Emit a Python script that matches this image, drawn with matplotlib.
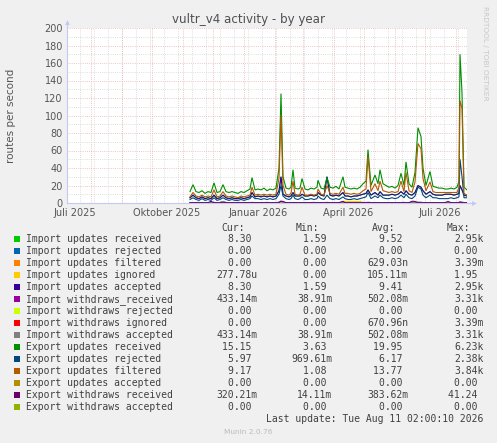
import numpy as np
import matplotlib
matplotlib.use('Agg')
import matplotlib.pyplot as plt
from matplotlib.patches import Rectangle

W, H = 497, 443

# x positions: days after 2025-07-08 12:00
day = [123, 126, 129, 132, 135, 138, 141, 144, 147, 150,
       153, 156, 159, 162, 165, 168, 171, 174, 177, 180,
       183, 185, 188, 191, 194, 197, 200, 203, 206, 209,
       212, 214, 216, 219, 222, 224, 226, 228, 231, 233,
       235, 238, 241, 244, 247, 250, 251, 254, 257, 260,
       263, 266, 269, 272, 276, 278, 281, 284, 287, 290,
       293, 296, 299, 301, 304, 308, 311, 313, 316, 319,
       322, 325, 328, 331, 334, 337, 339, 342, 345, 348,
       351, 354, 356, 359, 363, 366, 369, 372, 375, 378,
       381, 384, 387, 390, 392, 393, 395, 397, 400]

exp_recv = [13, 21, 13, 12, 14, 11, 13, 12, 23, 12,
            13, 21, 13, 12, 13, 12, 11, 13, 12, 14,
            16, 29, 15, 16, 15, 17, 14, 16, 15, 17,
            40, 125, 30, 17, 16, 18, 38, 17, 16, 17,
            28, 16, 15, 17, 16, 18, 26, 17, 16, 29,
            18, 17, 19, 16, 30, 18, 17, 16, 17, 16,
            18, 22, 25, 61, 20, 32, 22, 38, 22, 20,
            18, 19, 17, 20, 34, 20, 47, 22, 18, 35,
            86, 76, 40, 20, 36, 19, 18, 17, 17, 16,
            16, 17, 16, 18, 25, 170, 126, 18, 15]

exp_filt = [7, 12, 8, 7, 9, 7, 8, 7, 15, 7,
            8, 13, 8, 7, 8, 7, 6, 8, 7, 8,
            9, 18, 9, 10, 9, 10, 9, 10, 9, 10,
            28, 101, 20, 10, 9, 11, 25, 10, 9, 10,
            18, 9, 9, 10, 9, 10, 16, 10, 9, 20,
            11, 10, 11, 10, 18, 11, 11, 10, 11, 10,
            11, 14, 16, 53, 13, 22, 14, 25, 14, 13,
            12, 13, 12, 13, 25, 13, 35, 14, 12, 24,
            68, 62, 28, 14, 24, 13, 12, 12, 12, 12,
            12, 12, 12, 12, 18, 117, 108, 11, 9]

exp_rej = [4, 6, 4, 3, 5, 3, 4, 3, 6, 3,
           4, 6, 4, 3, 4, 3, 3, 4, 3, 4,
           5, 8, 5, 5, 4, 5, 4, 5, 4, 5,
           10, 20, 8, 5, 4, 5, 9, 5, 4, 5,
           7, 4, 4, 5, 4, 5, 8, 5, 4, 9,
           5, 4, 5, 4, 7, 5, 4, 4, 5, 4,
           5, 6, 7, 12, 5, 8, 6, 9, 6, 5,
           5, 6, 5, 6, 9, 6, 10, 6, 5, 8,
           18, 16, 9, 6, 9, 6, 6, 5, 5, 5,
           5, 6, 5, 6, 7, 50, 30, 6, 6]

imp_acc = [6, 9, 6, 5, 7, 5, 6, 5, 9, 5,
           6, 9, 6, 5, 6, 5, 5, 6, 5, 6,
           7, 12, 7, 8, 7, 8, 7, 8, 7, 8,
           14, 30, 10, 8, 7, 8, 12, 8, 8, 8,
           10, 8, 8, 9, 8, 9, 12, 9, 8, 30,
           9, 8, 9, 8, 12, 8, 8, 7, 8, 8,
           9, 10, 11, 15, 9, 12, 9, 13, 9, 9,
           9, 10, 9, 10, 13, 10, 14, 10, 9, 12,
           20, 18, 14, 10, 13, 10, 9, 9, 9, 10,
           10, 10, 9, 10, 11, 20, 15, 9, 8]

imp_recv = [6, 9, 6, 5, 7, 5, 6, 5, 9, 5,
            6, 9, 6, 5, 6, 5, 5, 6, 5, 6,
            7, 12, 7, 8, 7, 8, 7, 8, 7, 8,
            14, 30, 10, 8, 7, 8, 12, 8, 8, 8,
            10, 8, 8, 9, 8, 9, 12, 9, 8, 30,
            9, 8, 9, 8, 12, 8, 8, 7, 8, 8,
            9, 10, 11, 15, 9, 12, 9, 13, 9, 9,
            9, 10, 9, 10, 13, 10, 14, 10, 9, 12,
            20, 18, 14, 10, 13, 10, 9, 9, 9, 10,
            10, 10, 9, 10, 11, 20, 15, 9, 8]

wd_recv = [0.5, 0.4, 0.5, 0.6, 0.4, 0.5, 0.5, 0.4, 0.6, 0.5,
           0.5, 1.8, 0.5, 0.4, 0.5, 0.5, 0.6, 0.5, 0.4, 0.5,
           0.5, 0.6, 0.5, 0.4, 0.5, 0.5, 0.6, 0.5, 0.5, 0.4,
           0.8, 2.0, 0.6, 0.5, 0.5, 0.4, 0.6, 0.5, 0.5, 0.5,
           0.5, 0.4, 0.5, 0.5, 0.6, 0.5, 0.5, 0.4, 0.5, 0.6,
           0.5, 0.5, 0.4, 0.5, 0.6, 0.5, 0.5, 0.5, 0.4, 0.5,
           0.5, 0.6, 0.5, 0.7, 0.5, 0.5, 0.4, 0.5, 0.5, 0.5,
           0.5, 0.4, 0.5, 0.5, 0.5, 0.6, 0.5, 0.5, 0.5, 0.5,
           0.8, 0.7, 0.5, 0.5, 0.5, 0.4, 0.5, 0.5, 0.5, 0.5,
           0.5, 0.5, 0.4, 0.5, 0.5, 1.5, 0.8, 0.5, 0.4]

exp_wd_recv = [0.4, 0.3, 0.4, 0.3, 0.4, 0.3, 0.4, 1.9, 0.4, 0.3,
               0.4, 0.3, 0.4, 0.3, 0.4, 0.3, 0.4, 0.3, 0.4, 0.3,
               0.4, 0.3, 0.4, 0.3, 0.4, 0.3, 0.4, 0.3, 0.4, 0.3,
               0.4, 2.0, 1.8, 0.4, 0.3, 0.4, 0.3, 0.4, 0.3, 0.4,
               0.3, 0.4, 0.3, 0.4, 0.3, 0.4, 0.3, 0.4, 0.3, 0.4,
               0.3, 0.4, 0.3, 0.4, 1.9, 0.4, 0.3, 0.4, 0.3, 0.4,
               0.3, 0.4, 0.3, 0.4, 0.3, 0.4, 0.3, 0.4, 0.3, 0.4,
               0.3, 0.4, 0.3, 0.4, 0.3, 0.4, 0.3, 0.4, 2.0, 1.8,
               0.3, 0.4, 0.3, 0.4, 0.3, 0.4, 0.3, 0.4, 0.3, 0.4,
               1.8, 0.4, 0.3, 0.4, 0.3, 0.4, 0.3, 0.4, 0.3]

imp_ign = [0, 0, 0, 0, 0, 0, 0, 0, 0, 0,
           0, 0, 0, 0, 0, 0, 0, 0, 0, 0,
           0, 0, 0, 0, 0, 0, 0, 0, 0, 0,
           0, 0, 0, 0, 0, 0, 0, 0, 0, 0,
           0, 0, 0, 0, 0, 0, 0, 0, 0, 0,
           0, 0, 0, 0, 1.8, 1.8, 1.8, 1.8, 1.8, 1.8,
           1.8, 0, 0, 0, 0, 0, 0, 0, 0, 0,
           0, 0, 0, 0, 0, 0, 0, 0, 0, 0,
           0, 0, 0, 0, 0, 0, 0, 0, 0, 0,
           0, 0, 0, 0, 0, 0, 0, 0, 0]

zero = [0] * len(day)

names = ["Import updates received", "Import updates rejected", "Import updates filtered",
         "Import updates ignored", "Import updates accepted", "Import withdraws_received",
         "Import withdraws rejected", "Import withdraws ignored", "Import withdraws accepted",
         "Export updates received", "Export updates rejected", "Export updates filtered",
         "Export updates accepted", "Export withdraws received", "Export withdraws accepted"]
colors = ["#00CC00", "#0066B3", "#FF8000", "#FFCC00", "#330099", "#990099", "#CCFF00",
          "#FF0000", "#808080", "#008F00", "#00487D", "#B35A00", "#B38F00", "#6B006B", "#8FB300"]
values = [imp_recv, zero, zero, imp_ign, imp_acc, wd_recv, zero, zero, wd_recv,
          exp_recv, exp_rej, exp_filt, zero, exp_wd_recv, zero]
cur = ["8.30 ", "0.00 ", "0.00 ", "277.78u", "8.30 ", "433.14m", "0.00 ", "0.00 ", "433.14m",
       "15.15 ", "5.97 ", "9.17 ", "0.00 ", "320.21m", "0.00 "]
mins = ["1.59 ", "0.00 ", "0.00 ", "0.00 ", "1.59 ", "38.91m", "0.00 ", "0.00 ", "38.91m",
        "3.63 ", "969.61m", "1.08 ", "0.00 ", "14.11m", "0.00 "]
avgs = ["9.52 ", "0.00 ", "629.03n", "105.11m", "9.41 ", "502.08m", "0.00 ", "670.96n", "502.08m",
        "19.95 ", "6.17 ", "13.77 ", "0.00 ", "383.62m", "0.00 "]
maxs = ["2.95k", "0.00 ", "3.39m", "1.95 ", "2.95k", "3.31k", "0.00 ", "3.39m", "3.31k",
        "6.23k", "2.38k", "3.84k", "0.00 ", "41.24 ", "0.00 "]

xtick_dates = ["2025-07-16", "2025-10-16", "2026-01-16", "2026-04-16", "2026-07-16"]
xtick_labels = ["Juli 2025", "Oktober 2025", "Januar 2026", "April 2026", "Juli 2026"]

start = np.datetime64('2025-07-08T12:00')
xs = start + np.array(day) * np.timedelta64(1, 'D')

fig = plt.figure(figsize=(W / 100, H / 100), dpi=100, facecolor='#F0F0F0')
L, R, T, B = 67, 467, 28, 203
ax = fig.add_axes([L / W, 1 - B / H, (R - L) / W, (B - T) / H])
ax.set_facecolor('white')
ax.set_xlim(start, start + np.timedelta64(400, 'D'))
ax.set_ylim(0, 200)

red = '#EDB0B0'
grey = '#D4D4D4'
dots = (0, (1, 1.6))
for v in range(10, 201, 10):
    ax.axhline(v, color=red if v % 20 == 0 else grey, lw=0.6, ls=dots, zorder=1 if v % 20 else 1.5)
for d in np.arange(np.datetime64('2025-07-21'), np.datetime64('2026-08-13'), np.timedelta64(14, 'D')):
    ax.axvline(d, color=grey, lw=0.6, ls=dots, zorder=1)
for m in np.arange(np.datetime64('2025-08'), np.datetime64('2026-09'), np.timedelta64(1, 'M')):
    ax.axvline(m.astype('datetime64[D]'), color=red, lw=0.6, ls=dots, zorder=1.5)

for vals, c in zip(values, colors):
    ax.plot(xs, vals, color=c, lw=0.8, zorder=3, solid_joinstyle='miter')

for s in ax.spines.values():
    s.set_visible(False)
axc = '#C4C8F4'
ax.plot([0, 0], [0, 1.03], transform=ax.transAxes, color=axc, lw=0.8, clip_on=False, zorder=4)
ax.plot([0, 1.015], [0, 0], transform=ax.transAxes, color=axc, lw=0.8, clip_on=False, zorder=2)
ax.plot([0], [1.035], transform=ax.transAxes, marker='^', ms=3.5, color=axc, clip_on=False, mew=0)
ax.plot([1.018], [0], transform=ax.transAxes, marker='>', ms=3.5, color=axc, clip_on=False, mew=0)

tc = '#555555'
ax.set_yticks(range(0, 201, 20))
ax.set_xticks([np.datetime64(d) for d in xtick_dates])
ax.set_xticklabels(xtick_labels)
ax.tick_params(length=0, labelsize=7, colors=tc, pad=3)
ax.tick_params(axis='x', pad=3.5)
fig.text(11 / W, 1 - 115.5 / H, "routes per second", rotation=90, ha='center', va='center',
         fontsize=7.5, color=tc)

fig.text(248.5 / W, 1 - 19 / H, "vultr_v4 activity - by year", ha='center', va='center',
         fontsize=8.6, color='#505050')
fig.text(485 / W, 1 - 53 / H, "RRDTOOL / TOBI OETIKER", rotation=270, ha='center', va='center',
         fontsize=5.3, color='#C8C8C8')

mono = 'DejaVu Sans Mono'
lc = '#404040'
fs = 7.0
hy = 228.3
for lab, xr in zip(["Cur:", "Min:", "Avg:", "Max:"], [245, 319.5, 395, 470]):
    fig.text(xr / W, 1 - hy / H, lab, ha='right', va='center', family=mono, fontsize=fs, color=lc)
col_x = [257.3, 332.3, 408, 483.3]
for i, name in enumerate(names):
    y = 239.3 + 12 * i
    fig.patches.append(Rectangle((14 / W, 1 - (y + 3) / H), 6 / W, 6 / H, transform=fig.transFigure,
                                 facecolor=colors[i], edgecolor='none'))
    fig.text(26.5 / W, 1 - y / H, name, ha='left', va='center', family=mono, fontsize=fs, color=lc)
    for col, xr in zip([cur, mins, avgs, maxs], col_x):
        fig.text(xr / W, 1 - y / H, col[i], ha='right', va='center', family=mono, fontsize=fs, color=lc)
fig.text(483.3 / W, 1 - 419.3 / H, "Last update: Tue Aug 11 02:00:10 2026", ha='right', va='center',
         family=mono, fontsize=fs, color=lc)
fig.text(248 / W, 1 - 432 / H, "Munin 2.0.76", ha='center', va='center', fontsize=5.3, color='#BBBBBB')

fig.savefig('out.png', dpi=100, facecolor=fig.get_facecolor())
